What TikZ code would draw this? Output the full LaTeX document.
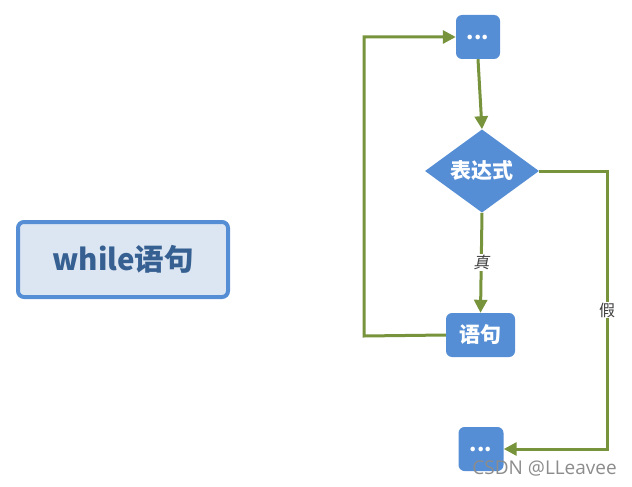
\documentclass[tikz,border=0pt]{standalone}
\usepackage{fontspec}
\setmainfont{Noto Sans CJK SC}
\newfontfamily\cjkslant[FakeSlant=0.2]{Noto Sans CJK SC}
\newfontfamily\wmfont{Open Sans}
\usetikzlibrary{shapes.geometric,arrows.meta}
\definecolor{boxblue}{HTML}{558ED5}
\definecolor{lightfill}{HTML}{DCE6F2}
\definecolor{darktext}{HTML}{376092}
\definecolor{lgreen}{HTML}{77933C}
\begin{document}
\begin{tikzpicture}[x=1pt,y=-1pt,
  blk/.style={draw=none,fill=boxblue,rounded corners=6pt,text=white,font=\bfseries\fontsize{21}{23}\selectfont,inner sep=0pt,minimum height=44pt},
  dec/.style={diamond,draw=none,fill=boxblue,text=white,font=\bfseries\fontsize{21}{23}\selectfont,inner sep=0pt,minimum width=114pt,minimum height=77pt},
  conn/.style={draw=lgreen,line width=3pt,-{Triangle[length=13pt,width=13pt]}},
  lbl/.style={fill=white,text=black!75,font=\fontsize{16}{18}\selectfont,inner sep=1pt}]
\useasboundingbox (0,0) rectangle (632,487);
\node[draw=boxblue,line width=4pt,fill=lightfill,rounded corners=6pt,minimum width=210pt,minimum height=75pt,text=darktext,font=\bfseries\fontsize{29.5}{32}\selectfont] (title) at (123,259.5) {while语句};
\node[blk,minimum width=44pt] (top) at (478,37) {...};
\node[dec] (cond) at (482,171) {表达式};
\node[blk,minimum width=69pt] (stmt) at (480.5,335) {语句};
\node[blk,minimum width=45pt] (bot) at (481,449) {...};
\coordinate (lb) at (364,336);
\coordinate (lt) at (364,37);
\coordinate (rt) at (607,171);
\coordinate (rb) at (607,449);
\draw[conn] (top.south) -- (cond.north);
\draw[conn] (cond.south) -- node[lbl,pos=0.5,font=\cjkslant\fontsize{16}{18}\selectfont]{真} (stmt.north);
\draw[conn] (stmt.west) -- (lb) -- (lt) -- (top.west);
\draw[conn] (cond.east) -- (rt) -- node[lbl,pos=0.5]{假} (rb) -- (bot.east);
\node[text=black!45,font=\wmfont\fontsize{19}{21}\selectfont,anchor=east,inner sep=0pt] (wm) at (617,468) {CSDN @LLeavee};
\end{tikzpicture}
\end{document}
